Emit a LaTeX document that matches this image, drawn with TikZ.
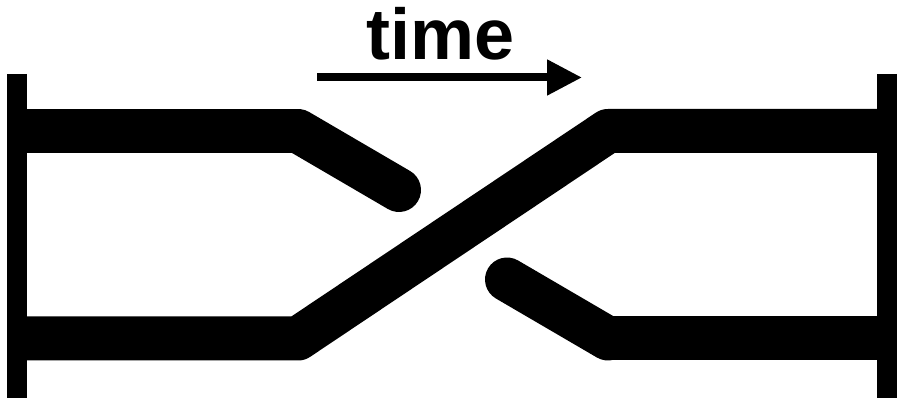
\documentclass[tikz,border=0pt]{standalone}
\usepackage{fontspec}
\setmainfont{Liberation Sans}
\usetikzlibrary{arrows.meta}
\tikzset{
  strand/.style={line width=44pt, line join=round, black},
  capped/.style={strand, line cap=round},
  endbar/.style={line width=20pt, black},
  timearrow/.style={line width=8pt, -{Triangle[length=35pt,width=34pt]}},
  label/.style={font=\fontsize{72}{72}\selectfont\bfseries, inner sep=0pt, anchor=base}
}
\begin{document}
\begin{tikzpicture}[x=1pt,y=-1pt]
\useasboundingbox (0,0) rectangle (906,411);
% coordinates
\coordinate (LT) at (17,131);
\coordinate (LB) at (17,338.5);
\coordinate (RT) at (887,131);
\coordinate (RB) at (887,338.5);
\coordinate (c1) at (298,131);
\coordinate (c2) at (298,338.5);
\coordinate (c3) at (608,131);
\coordinate (c4) at (608,338.5);
\coordinate (e1) at (399,190);
\coordinate (e2) at (507,279.5);
\coordinate (barLtop) at (17,74);
\coordinate (barLbot) at (17,398);
\coordinate (barRtop) at (887,74);
\coordinate (barRbot) at (887,398);
\coordinate (aStart) at (317,77.5);
\coordinate (aEnd) at (582,77.5);
% strands
\draw[strand] (LT) -- (c1);
\draw[capped] (c1) -- (e1);
\draw[strand] (RB) -- (c4);
\draw[capped] (c4) -- (e2);
\draw[strand] (LB) -- (c2) -- (c3) -- (RT);
% end bars
\draw[endbar] (barLtop) -- (barLbot);
\draw[endbar] (barRtop) -- (barRbot);
% time arrow
\draw[timearrow] (aStart) -- (aEnd);
\node[label] (time) at (440.5,60) {time};
\end{tikzpicture}
\end{document}
